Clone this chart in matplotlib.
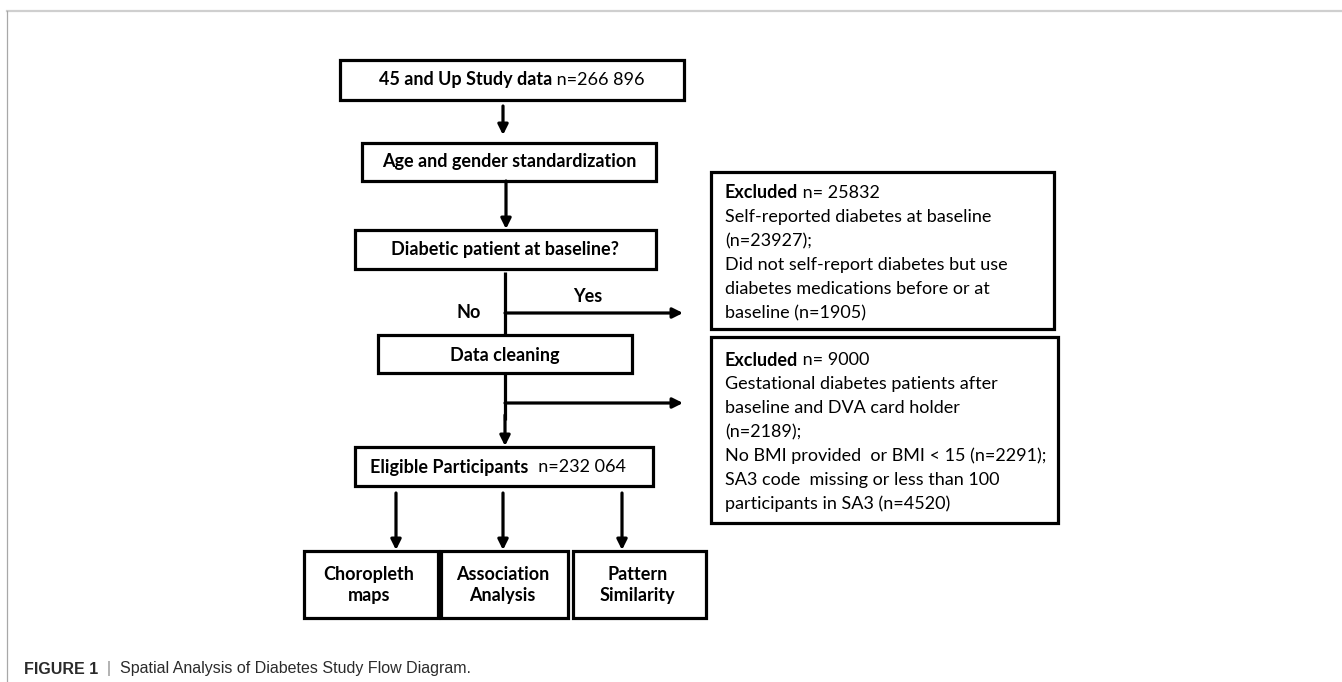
import matplotlib
matplotlib.use("Agg")
import matplotlib.pyplot as plt
from matplotlib.patches import Rectangle

# counts shown in the flow diagram
total_n = "266 896"
eligible_n = "232 064"
excluded_baseline = 25832
self_reported = 23927
medication_only = 1905
excluded_cleaning = 9000
gestational_dva = 2189
no_bmi = 2291
sa3_missing = 4520

main_steps = ["Age and gender standardization", "Diabetic patient at baseline?", "Data cleaning"]
outputs = ["Choropleth\nmaps", "Association\nAnalysis", "Pattern\nSimilarity"]

box_font = "Lato"
box_size = 13
caption_font = "Liberation Sans"

fig = plt.figure(figsize=(13.42, 6.82), dpi=100)
ax = fig.add_axes([0, 0, 1, 1])
ax.set_xlim(0, 1342)
ax.set_ylim(682, 0)
ax.axis("off")
renderer = fig.canvas.get_renderer()


def box(x0, y0, x1, y1):
    ax.add_patch(Rectangle((x0, y0), x1 - x0, y1 - y0, fill=False, ec="black", lw=2.3))


def arrow(x0, y0, x1, y1):
    ax.annotate("", xy=(x1, y1), xytext=(x0, y0),
                arrowprops=dict(arrowstyle="-|>", color="black", lw=2.3,
                                mutation_scale=15, shrinkA=0, shrinkB=0))


def line(xs, ys):
    ax.plot(xs, ys, color="black", lw=2.3, solid_capstyle="butt")


def mixed(x, y, parts, ha="left", size=box_size, family=box_font, color="black"):
    # parts: list of (text, weight, colour or None); placed one after another on one line
    texts = []
    for part in parts:
        s, w = part[0], part[1]
        c = part[2] if len(part) > 2 else color
        t = ax.text(0, y, s, fontsize=size, fontweight=w, family=family,
                    va="center", ha="left", color=c)
        texts.append(t)
    widths = [t.get_window_extent(renderer).width for t in texts]
    start = x - sum(widths) / 2 if ha == "center" else x
    for t, w in zip(texts, widths):
        t.set_x(start)
        start += w
    return texts


# main column
box(340, 60, 684, 100)
mixed(512, 80, [("45 and Up Study data", "bold"), (f" n={total_n}", "normal")], ha="center")
arrow(503, 106, 503, 135)

box(362, 143, 656, 181)
mixed(509, 162, [(main_steps[0], "bold")], ha="center")
arrow(506, 181, 506, 229)

box(355, 230, 656, 269)
mixed(505, 250, [(main_steps[1], "bold")], ha="center")
line([505, 505], [272, 335])
arrow(505, 313, 683, 313)
ax.text(588, 297, "Yes", fontsize=box_size, fontweight="bold", family=box_font, ha="center", va="center")
ax.text(469, 312, "No", fontsize=box_size, fontweight="bold", family=box_font, ha="center", va="center")

box(378, 335, 632, 373)
mixed(505, 355, [(main_steps[2], "bold")], ha="center")
line([505, 505], [373, 420])
arrow(505, 403, 683, 403)
arrow(505, 415, 505, 446)

box(355, 447, 653, 486)
mixed(498, 467, [("Eligible Participants", "bold"), (f"  n={eligible_n}", "normal")], ha="center")

out_boxes = [(304, 438), (441, 568), (573, 706)]
arrow_x = [396, 503, 622]
for (x0, x1), ax_x, label in zip(out_boxes, arrow_x, outputs):
    arrow(ax_x, 493, ax_x, 550)
    box(x0, 551, x1, 618)
    ax.text((x0 + x1) / 2 - 2, 585, label, fontsize=box_size, fontweight="bold", family=box_font,
            ha="center", va="center", linespacing=1.35)

# exclusion boxes
box(711, 172, 1054, 329)
excl1 = [
    [("Excluded", "bold"), (f" n= {excluded_baseline}", "normal")],
    [("Self-reported diabetes at baseline", "normal")],
    [(f"(n={self_reported});", "normal")],
    [("Did not self-report diabetes but use", "normal")],
    [("diabetes medications before or at", "normal")],
    [(f"baseline (n={medication_only})", "normal")],
]
for i, parts in enumerate(excl1):
    mixed(725, 193 + i * 24, parts)

box(711, 337, 1058, 523)
excl2 = [
    [("Excluded", "bold"), (f" n= {excluded_cleaning}", "normal")],
    [("Gestational diabetes patients after", "normal")],
    [("baseline and DVA card holder", "normal")],
    [(f"(n={gestational_dva});", "normal")],
    [(f"No BMI provided  or BMI < 15 (n={no_bmi});", "normal")],
    [("SA3 code  missing or less than 100", "normal")],
    [(f"participants in SA3 (n={sa3_missing})", "normal")],
]
for i, parts in enumerate(excl2):
    mixed(725, 360 + i * 24, parts)

# page frame
ax.plot([7, 1342], [11, 11], color="#cfcfcf", lw=1.6)
ax.plot([7, 7], [11, 682], color="#a8a8a8", lw=0.9)

# caption
mixed(24, 669, [("FIGURE 1", "bold"), ("  |  ", "normal", "#888888"),
                ("Spatial Analysis of Diabetes Study Flow Diagram.", "normal")],
      size=11.5, family=caption_font, color="#2b2b2b")

fig.savefig("out.png", dpi=100)
